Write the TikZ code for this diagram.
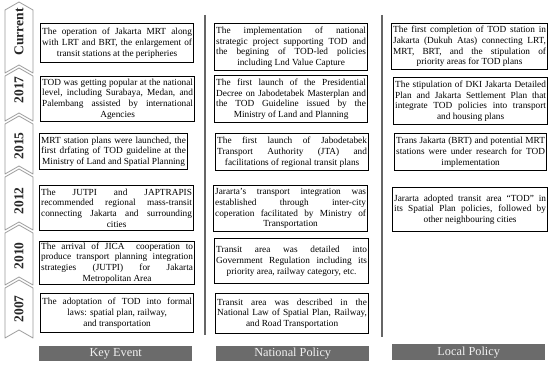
\documentclass[tikz,border=0pt]{standalone}
\usepackage{fontspec}
\setmainfont{Liberation Serif}
\newcommand\myctr[1]{\null\hfill#1\hfill\null}
\begin{document}
\begin{tikzpicture}[x=1pt,y=-1pt,
  box/.style={draw=black, line width=1.2pt, anchor=north west, inner xsep=1.6pt, inner ysep=1pt,
    align=justify, font=\fontsize{9.3}{10.7}\selectfont,
    execute at begin node={\parfillskip=0pt\relax\tolerance=10000\hbadness=10000\emergencystretch=0pt}},
  head/.style={fill=black!58, anchor=north west, inner sep=0pt, text=black!5,
    font=\fontsize{12.3}{13}\selectfont},
  chev/.style={draw=black!40, fill=white, line width=0.8pt, line join=round},
  yr/.style={rotate=90, font=\fontsize{13.5}{14}\selectfont\bfseries, text=black!85, inner sep=0pt},
  sep/.style={draw=black!60, line width=1.5pt}
]
\useasboundingbox (0,0) rectangle (550,366);

% chevrons
\foreach \T/\B in {2/73, 68/121, 116/174, 169/230, 225/285, 280/338}{
  \draw[chev] (5,\T+8) -- (19,\T) -- (33,\T+8) -- (33,\B) -- (19,\B-8) -- (5,\B) -- cycle;
}
\node[yr] (y0) at (19,32) {Current};
\node[yr] (y1) at (19,90) {2017};
\node[yr] (y2) at (19,146) {2015};
\node[yr] (y3) at (19,201) {2012};
\node[yr] (y4) at (19,256) {2010};
\node[yr] (y5) at (19,309) {2007};

% separators
\coordinate (s1a) at (205,15); \coordinate (s1b) at (205,335);
\coordinate (s2a) at (382,15); \coordinate (s2b) at (382,337);
\draw[sep] (s1a) -- (s1b);
\draw[sep] (s2a) -- (s2b);

% Key Event column
\node[box, text width=149.8pt, minimum height=39pt] (k0) at (40,23)
 {The operation of Jakarta MRT along\linebreak with LRT and BRT, the enlargement of\linebreak\myctr{transit stations at the peripheries}};
\node[box, text width=150.8pt, minimum height=45pt] (k1) at (40,76)
 {TOD was getting popular at the national\linebreak level, including Surabaya, Medan, and\linebreak Palembang assisted by international\linebreak\myctr{Agencies}};
\node[box, text width=144.8pt, minimum height=36pt] (k2) at (39,133)
 {MRT station plans were launched, the\linebreak first drfating of TOD guideline at the\linebreak\myctr{Ministry of Land and Spatial Planning}};
\node[box, text width=150.8pt, minimum height=45pt] (k3) at (39,185)
 {The JUTPI and JAPTRAPIS\linebreak recommended regional mass-transit\linebreak connecting Jakarta and surrounding\linebreak\myctr{cities}};
\node[box, text width=151.8pt, minimum height=42pt] (k4) at (39,241)
 {The arrival of JICA\ \ cooperation to\linebreak produce transport planning integration\linebreak strategies (JUTPI) for Jakarta\linebreak\myctr{Metropolitan Area}};
\node[box, text width=149.8pt, minimum height=39pt] (k5) at (40,293)
 {The adoptation of TOD into formal\linebreak\myctr{laws: spatial plan, railway,}\linebreak\myctr{and transportation}};

% National Policy column
\node[box, text width=149.8pt, minimum height=47pt] (n0) at (214,23)
 {The implementation of national\linebreak strategic project supporting TOD and\linebreak the begining of TOD-led policies\linebreak\myctr{including Lnd Value Capture}};
\node[box, text width=149.8pt, minimum height=47pt] (n1) at (214,75)
 {The first launch of the Presidential\linebreak Decree on Jabodetabek Masterplan and\linebreak the TOD Guideline issued by the\linebreak\myctr{Ministry of Land and Planning}};
\node[box, text width=149.8pt, minimum height=37pt] (n2) at (215,133)
 {The first launch of Jabodetabek\linebreak Transport Authority (JTA) and\linebreak\myctr{facilitations of regional transit plans}};
\node[box, text width=150.8pt, minimum height=46pt] (n3) at (213,185)
 {Jararta’s transport integration was\linebreak established through inter-city\linebreak coperation facilitated by Ministry of\linebreak\myctr{Transportation}};
\node[box, text width=150.8pt, minimum height=45pt] (n4) at (214,238)
 {Transit area was detailed into\linebreak Government Regulation including its\linebreak\myctr{priority area, railway category, etc.}};
\node[box, text width=149.8pt, minimum height=40pt] (n5) at (215,293)
 {Transit area was described in the\linebreak National Law of Spatial Plan, Railway,\linebreak\myctr{and Road Transportation}};

% Local Policy column
\node[box, text width=152.8pt, minimum height=46pt] (l0) at (391,23)
 {The first completion of TOD station in\linebreak Jakarta (Dukuh Atas) connecting LRT,\linebreak MRT, BRT, and the stipulation of\linebreak\myctr{priority areas for TOD plans}};
\node[box, text width=150.8pt, minimum height=47pt] (l1) at (393,77)
 {The stipulation of DKI Jakarta Detailed\linebreak Plan and Jakarta Settlement Plan that\linebreak integrate TOD policies into transport\linebreak\myctr{and housing plans}};
\node[box, text width=148.8pt, minimum height=37pt] (l2) at (394,133)
 {Trans Jakarta (BRT) and potential MRT\linebreak stations were under research for TOD\linebreak\myctr{implementation}};
\node[box, text width=151.8pt, minimum height=44pt] (l3) at (392,187)
 {Jararta adopted transit area “TOD” in\linebreak its Spatial Plan policies, followed by\linebreak\myctr{other neighbouring cities}};

% headers
\node[head, minimum width=153pt, minimum height=15pt] (h0) at (39,346) {Key Event};
\node[head, minimum width=153pt, minimum height=15pt] (h1) at (216,346) {National Policy};
\node[head, minimum width=153pt, minimum height=16pt] (h2) at (392,344) {Local Policy};
\end{tikzpicture}
\end{document}
